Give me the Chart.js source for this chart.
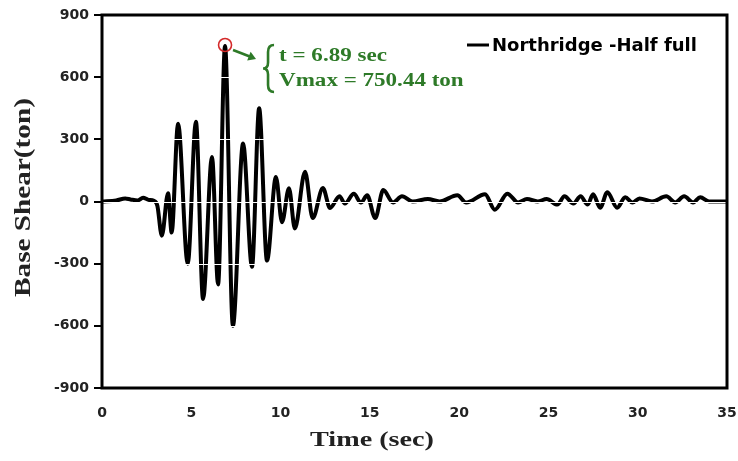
<!DOCTYPE html>
<html>
<head>
<meta charset="utf-8">
<script src="https://cdn.jsdelivr.net/npm/chart.js@4/dist/chart.umd.min.js"></script>
<style>
  body { margin: 0; background: #fff; }
  #wrap { width: 738px; height: 461px; }
</style>
</head>
<body>
<div id="wrap"><canvas id="mainChart" width="738" height="461"></canvas></div>
<script>
// Base shear time history (time in sec, shear in ton)
const timeSec = [
  0, 0.8, 1.3, 1.6, 2.0, 2.3, 2.6, 2.9, 3.1, 3.35, 3.7, 3.9,
  4.26, 4.8, 5.26, 5.66, 6.16, 6.5, 6.89, 7.33, 7.9, 8.4, 8.8,
  9.24, 9.74, 10.08, 10.47, 10.8, 11.37, 11.8, 12.37, 12.77,
  13.3, 13.6, 14.1, 14.5, 14.85, 15.3, 15.75, 16.3, 16.8, 17.4,
  18.25, 18.9, 19.9, 20.4, 21.45, 22.0, 22.7, 23.3, 23.8, 24.4,
  24.9, 25.5, 25.9, 26.4, 26.8, 27.2, 27.5, 27.9, 28.3, 28.85,
  29.3, 29.7, 30.1, 30.8, 31.6, 32.1, 32.6, 33.1, 33.5, 34.0, 35
];
const baseShear = [
  0, 5, 15, 10, 5, 18, 8, 3, -20, -165, 40, -150,
  375, -300, 385, -470, 215, -400, 750.44, -600, 280, -315, 450,
  -285, 118, -100, 64, -130, 143, -80, 65, -31,
  25, -10, 37, -5, 30, -80, 55, -5, 25, 0,
  12, 0, 30, -5, 35, -40, 38, -5, 12, 0,
  12, -15, 25, -10, 25, -15, 35, -30, 45, -30,
  20, -5, 15, 0, 25, -5, 25, -5, 20, 0, 0
];
const xTicks = [0, 5, 10, 15, 20, 25, 30, 35];
const yTicks = [-900, -600, -300, 0, 300, 600, 900];
const seriesLabel = 'Northridge -Half full';
const peakTime = 6.89;
const peakShear = 750.44;
const noteLines = ['t = 6.89 sec', 'Vmax = 750.44 ton'];

const GREEN = '#2e7a28';

// stretched text helper (the source figure is widened horizontally)
function stretchText(ctx, text, x, y, sx, align) {
  ctx.save();
  ctx.translate(x, y);
  ctx.scale(sx, 1);
  ctx.textAlign = align || 'left';
  ctx.fillText(text, 0, 0);
  ctx.restore();
}

const decorations = {
  id: 'decorations',
  afterDatasetsDraw(chart) {
    const { ctx, chartArea: a, scales: { x, y } } = chart;

    // faint white grid lines cutting through the trace
    ctx.save();
    ctx.strokeStyle = '#fff';
    ctx.lineWidth = 1.2;
    yTicks.slice(1, -1).forEach(v => {
      const py = Math.round(y.getPixelForValue(v)) + 0.5;
      ctx.beginPath();
      ctx.moveTo(a.left, py);
      ctx.lineTo(a.right, py);
      ctx.stroke();
    });
    ctx.restore();

    // frame
    ctx.save();
    ctx.strokeStyle = '#000';
    ctx.lineWidth = 3;
    ctx.strokeRect(a.left, a.top, a.right - a.left, a.bottom - a.top);
    ctx.restore();

    // peak marker
    const px = x.getPixelForValue(peakTime);
    const py = y.getPixelForValue(peakShear);
    ctx.save();
    ctx.strokeStyle = '#d42a2a';
    ctx.lineWidth = 1.6;
    ctx.beginPath();
    ctx.arc(px, py - 1, 6.5, 0, Math.PI * 2);
    ctx.stroke();

    // arrow
    const ax0 = px + 8, ay0 = py + 4, ax1 = px + 31, ay1 = py + 13;
    ctx.strokeStyle = GREEN;
    ctx.fillStyle = GREEN;
    ctx.lineWidth = 2.5;
    ctx.beginPath();
    ctx.moveTo(ax0, ay0);
    ctx.lineTo(ax1 - 5, ay1 - 2);
    ctx.stroke();
    const ang = Math.atan2(ay1 - ay0, ax1 - ax0);
    ctx.beginPath();
    ctx.moveTo(ax1, ay1);
    ctx.lineTo(ax1 - 9 * Math.cos(ang - 0.55), ay1 - 9 * Math.sin(ang - 0.55));
    ctx.lineTo(ax1 - 9 * Math.cos(ang + 0.55), ay1 - 9 * Math.sin(ang + 0.55));
    ctx.closePath();
    ctx.fill();

    // curly brace
    const bx = px + 43, bt = py - 1, bb = py + 46, bm = (bt + bb) / 2;
    ctx.lineWidth = 2.6;
    ctx.beginPath();
    ctx.moveTo(bx + 6, bt);
    ctx.quadraticCurveTo(bx, bt, bx, bt + 7);
    ctx.lineTo(bx, bm - 6);
    ctx.quadraticCurveTo(bx, bm, bx - 5, bm);
    ctx.quadraticCurveTo(bx, bm, bx, bm + 6);
    ctx.lineTo(bx, bb - 7);
    ctx.quadraticCurveTo(bx, bb, bx + 6, bb);
    ctx.stroke();

    // note text
    ctx.font = 'bold 18px "Liberation Serif", "Times New Roman", serif';
    ctx.textBaseline = 'middle';
    stretchText(ctx, noteLines[0], bx + 11, py + 10, 1.28);
    stretchText(ctx, noteLines[1], bx + 11, py + 35, 1.28);
    ctx.restore();

    // legend
    ctx.save();
    ctx.strokeStyle = '#000';
    ctx.lineWidth = 3;
    ctx.beginPath();
    ctx.moveTo(467, 45);
    ctx.lineTo(489, 45);
    ctx.stroke();
    ctx.fillStyle = '#000';
    ctx.font = 'bold 18px "DejaVu Sans", sans-serif';
    ctx.textBaseline = 'middle';
    ctx.fillText(seriesLabel, 492, 46);
    ctx.restore();

    // axis titles
    ctx.save();
    ctx.fillStyle = '#222';
    ctx.font = 'bold 22px "Liberation Serif", "Times New Roman", serif';
    ctx.textBaseline = 'middle';
    stretchText(ctx, 'Time (sec)', 372, 440, 1.28, 'center');
    ctx.translate(24, (a.top + a.bottom) / 2 - 4);
    ctx.rotate(-Math.PI / 2);
    ctx.font = 'bold 23px "Liberation Serif", "Times New Roman", serif';
    stretchText(ctx, 'Base Shear(ton)', 0, 0, 1.27, 'center');
    ctx.restore();
  }
};

const points = timeSec.map((t, i) => ({ x: t, y: baseShear[i] }));

new Chart(document.getElementById('mainChart').getContext('2d'), {
  type: 'line',
  data: {
    datasets: [{
      label: seriesLabel,
      data: points,
      borderColor: '#000',
      backgroundColor: '#000',
      borderWidth: 4,
      pointRadius: 0,
      cubicInterpolationMode: 'monotone',
      borderJoinStyle: 'round',
      fill: false
    }]
  },
  options: {
    responsive: false,
    animation: false,
    layout: { padding: { left: 0, top: 15, right: 11, bottom: 0 } },
    plugins: {
      legend: { display: false },
      tooltip: { enabled: false }
    },
    scales: {
      x: {
        type: 'linear',
        min: 0,
        max: 35,
        afterFit: (s) => { s.height = 73; s.paddingLeft = 0; s.paddingRight = 0; },
        afterBuildTicks: (s) => { s.ticks = xTicks.map(v => ({ value: v })); },
        grid: { display: true, drawOnChartArea: false, drawTicks: false, color: 'rgba(0,0,0,0)' },
        border: { display: false },
        ticks: {
          padding: 17,
          maxRotation: 0,
          color: '#222',
          font: { family: '"DejaVu Sans", sans-serif', size: 14, weight: 'bold' }
        }
      },
      y: {
        min: -900,
        max: 900,
        afterFit: (s) => { s.width = 102; s.paddingTop = 0; s.paddingBottom = 0; },
        afterBuildTicks: (s) => { s.ticks = yTicks.map(v => ({ value: v })); },
        grid: { drawOnChartArea: false, drawTicks: true, tickLength: 8, color: '#000', lineWidth: 2 },
        border: { display: false },
        ticks: {
          padding: 5,
          color: '#222',
          font: { family: '"DejaVu Sans", sans-serif', size: 14, weight: 'bold' }
        }
      }
    }
  },
  plugins: [decorations]
});
</script>
</body>
</html>
